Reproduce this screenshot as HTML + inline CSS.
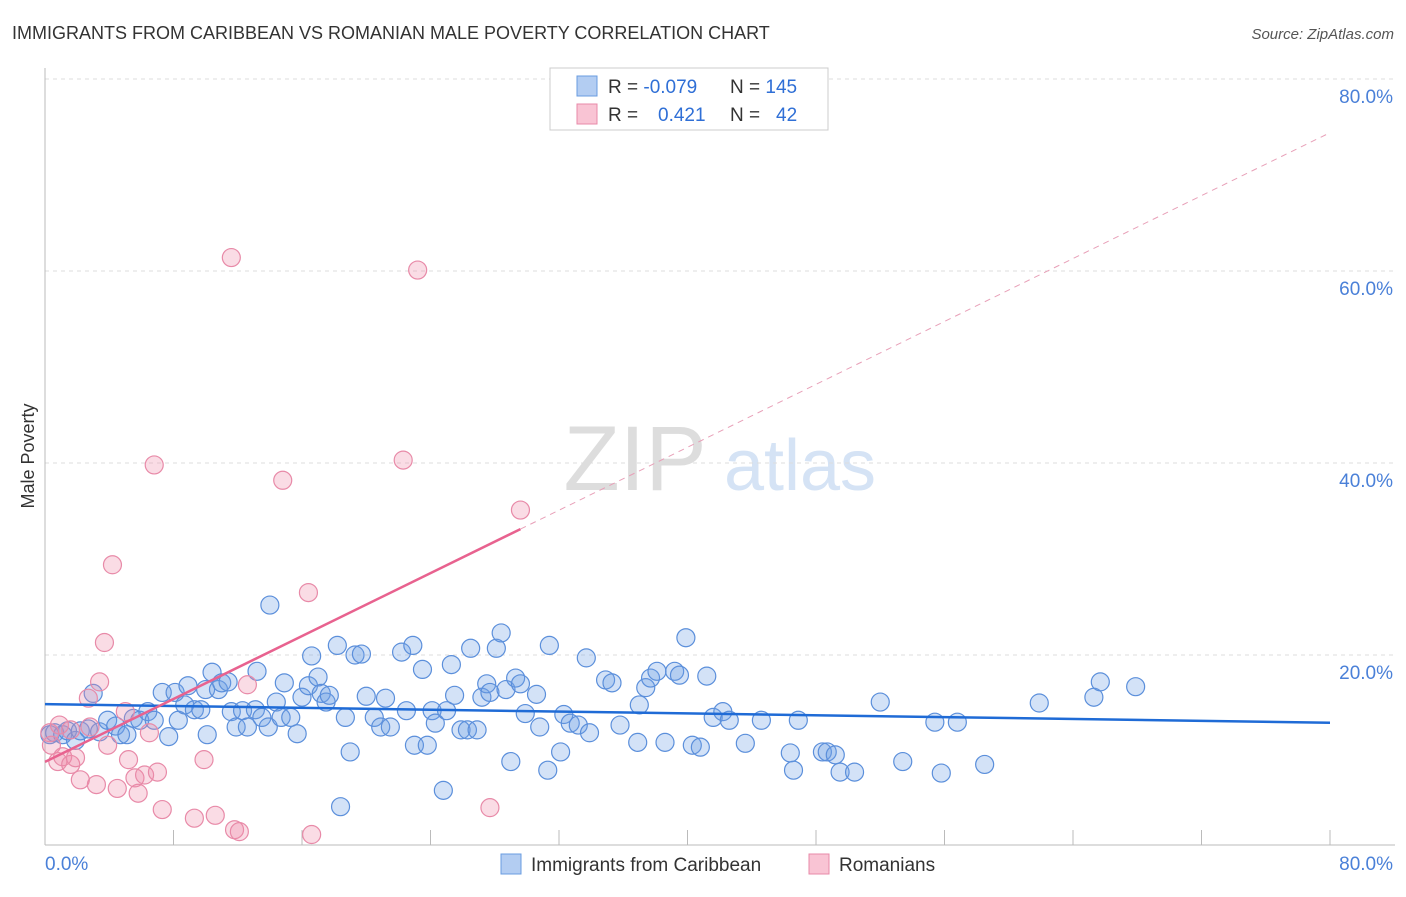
<!DOCTYPE html>
<html><head><meta charset="utf-8"><style>
body{margin:0;background:#fff;font-family:"Liberation Sans",sans-serif;}
svg text{font-family:"Liberation Sans",sans-serif;}
</style></head><body>
<svg id="chart" width="1406" height="892">
<text x="12" y="39" font-size="18" fill="#333">IMMIGRANTS FROM CARIBBEAN VS ROMANIAN MALE POVERTY CORRELATION CHART</text>
<text x="1394" y="39" font-size="15" fill="#555" font-style="italic" text-anchor="end">Source: ZipAtlas.com</text>
<text x="34" y="456" font-size="18" fill="#333" text-anchor="middle" transform="rotate(-90 34 456)">Male Poverty</text>
<g>
<text x="635" y="490" font-size="92" fill="#ddd" font-family="Liberation Serif" text-anchor="middle">ZIP</text>
<text x="800" y="490" font-size="72" fill="#d5e3f5" text-anchor="middle">atlas</text>
</g>
<g id="grid"></g>
<g id="axes"></g>
<g id="blue"></g>
<g id="pink"></g>
<g id="trends"></g>
<g>
<rect x="550" y="68" width="278" height="62" fill="#fff" stroke="#ccc"/>
<rect x="577" y="76" width="20" height="20" fill="#b3cdf2" stroke="#6a9ce0"/>
<rect x="577" y="104" width="20" height="20" fill="#f9c4d4" stroke="#e88aa8"/>
<text x="608" y="93" font-size="19" fill="#333">R = <tspan fill="#2f6fd6">-0.079</tspan><tspan x="730">N = </tspan><tspan fill="#2f6fd6">145</tspan></text>
<text x="608" y="121" font-size="19" fill="#333">R = <tspan x="658" fill="#2f6fd6">0.421</tspan><tspan x="730">N = </tspan><tspan x="776" fill="#2f6fd6">42</tspan></text>
</g>
<g>
<rect x="501" y="854" width="20" height="20" fill="#b3cdf2" stroke="#6a9ce0"/>
<text x="531" y="871" font-size="19" fill="#333">Immigrants from Caribbean</text>
<rect x="809" y="854" width="20" height="20" fill="#f9c4d4" stroke="#e88aa8"/>
<text x="839" y="871" font-size="19" fill="#333">Romanians</text>
</g>
</svg>
<script>
const yTicks=[20,40,60,80];
const yTickLabels=["20.0%","40.0%","60.0%","80.0%"];
const xTicks=[0,8,16,24,32,40,48,56,64,72,80];
const blueX=[0.3,0.6,1.1,1.4,1.9,2.2,2.7,3.0,3.4,3.9,4.4,4.7,5.1,5.5,5.9,6.4,6.8,7.3,7.7,8.1,8.3,8.7,8.9,9.3,9.7,10.0,10.1,10.4,10.8,11.0,11.4,11.6,11.9,12.3,12.6,13.1,13.2,13.5,13.9,14.0,14.4,14.7,14.9,15.3,15.7,16.0,16.4,16.6,17.0,17.2,17.5,17.7,18.2,18.4,18.7,19.0,19.3,19.7,20.0,20.5,20.9,21.2,21.5,22.2,22.5,22.9,23.0,23.5,23.8,24.1,24.3,24.8,25.0,25.3,25.5,25.9,26.3,26.5,26.9,27.2,27.5,27.7,28.1,28.4,28.7,29.0,29.3,29.6,29.9,30.6,30.8,31.3,31.4,32.1,32.3,32.7,33.2,33.7,33.9,34.9,35.3,35.8,36.9,37.0,37.4,37.7,38.1,38.6,39.2,39.5,39.9,40.3,40.8,41.2,41.6,42.2,42.6,43.6,44.6,46.4,46.6,46.9,48.4,48.7,49.2,49.5,50.4,52.0,53.4,55.4,55.8,56.8,58.5,61.9,65.3,65.7,67.9];
const blueY=[11.7,11.9,11.7,12.1,11.1,12.1,12.3,16.0,12.0,13.2,12.6,11.7,11.7,13.4,13.2,14.1,13.2,16.1,11.5,16.1,13.2,14.8,16.8,14.3,14.3,16.4,11.7,18.2,16.4,17.1,17.2,14.1,12.5,14.2,12.5,14.3,18.3,13.5,12.5,25.2,15.1,13.5,17.1,13.5,11.8,15.6,16.8,19.9,17.7,16.0,15.1,15.8,21.0,4.2,13.5,9.9,20.0,20.1,15.7,13.5,12.5,15.5,12.5,20.3,14.2,21.0,10.6,18.5,10.6,14.2,12.9,5.9,14.2,19.0,15.8,12.2,12.2,20.7,12.2,15.6,17.0,16.1,20.7,22.3,16.4,8.9,17.6,17.0,13.9,15.9,12.5,8.0,21.0,9.9,13.8,12.9,12.7,19.7,11.9,17.4,17.1,12.7,10.9,14.8,16.6,17.6,18.3,10.9,18.3,17.9,21.8,10.6,10.4,17.8,13.5,14.1,13.2,10.8,13.2,9.8,8.0,13.2,9.9,9.9,9.6,7.8,7.8,15.1,8.9,13.0,7.7,13.0,8.6,15.0,15.6,17.2,16.7];
const pinkX=[0.3,0.4,0.8,0.9,1.1,1.6,1.6,1.9,2.2,2.7,2.8,3.2,3.4,3.7,3.9,4.2,4.5,5.0,5.2,5.6,5.8,6.2,6.5,6.8,7.0,7.3,9.3,9.9,10.6,11.6,11.8,12.1,12.6,14.8,16.4,16.6,22.3,23.2,27.7,29.6];
const pinkY=[11.9,10.6,8.9,12.7,9.4,8.6,12.2,9.3,7.0,15.5,12.5,6.5,17.2,21.3,10.6,29.4,6.1,14.1,9.1,7.2,5.6,7.5,11.9,39.8,7.8,3.9,3.0,9.1,3.3,61.4,1.8,1.6,16.9,38.2,26.5,1.3,40.3,60.1,4.1,35.1];

const X0=45,X1=1330,Y0=847,PXY=9.6;
const sx=v=>X0+(v/80)*(X1-X0);
const sy=v=>Y0-v*PXY;
const NS="http://www.w3.org/2000/svg";
function mk(tag,attrs,parent){const e=document.createElementNS(NS,tag);for(const k in attrs)e.setAttribute(k,attrs[k]);parent.appendChild(e);return e;}

const grid=document.getElementById('grid');
yTicks.forEach((t,i)=>{
  const l=mk('line',{x1:45,x2:1395,y1:sy(t),y2:sy(t),stroke:'#ddd','stroke-dasharray':'4,4'},grid);
  
  
  const tx=mk('text',{x:1393,y:sy(t)+24,'font-size':19,fill:'#4a80d8','text-anchor':'end'},grid);
  tx.textContent=yTickLabels[i];
  
  
});
const axes=document.getElementById('axes');
mk('line',{x1:45,x2:45,y1:68,y2:845,stroke:'#bbb'},axes);
mk('line',{x1:45,x2:1395,y1:845,y2:845,stroke:'#bbb'},axes);
xTicks.forEach(t=>{
  const l=mk('line',{x1:sx(t),x2:sx(t),y1:830,y2:845,stroke:'#bbb'},axes);
  
  
});
const xl0=mk('text',{x:45,y:870,'font-size':19,fill:'#4a80d8'},axes);xl0.textContent="0.0%";


const xl1=mk('text',{x:1393,y:870,'font-size':19,fill:'#4a80d8','text-anchor':'end'},axes);xl1.textContent="80.0%";



const bg=document.getElementById('blue');
blueX.forEach((x,i)=>{
  const c=mk('circle',{cx:sx(x),cy:sy(blueY[i]),r:9,fill:'rgba(110,160,230,0.3)',stroke:'#5b8fdb','stroke-width':1.2},bg);
  
  
});
const pg=document.getElementById('pink');
pinkX.forEach((x,i)=>{
  const c=mk('circle',{cx:sx(x),cy:sy(pinkY[i]),r:9,fill:'rgba(240,140,170,0.3)',stroke:'#e88aa8','stroke-width':1.2},pg);
  
  
});

function fit(xs,ys){const n=xs.length;let mx=0,my=0;for(let i=0;i<n;i++){mx+=xs[i];my+=ys[i];}mx/=n;my/=n;let a=0,b=0;for(let i=0;i<n;i++){a+=(xs[i]-mx)*(ys[i]-my);b+=(xs[i]-mx)**2;}const s=a/b;return [s,my-s*mx];}
const tg=document.getElementById('trends');
const [bs,bi]=fit(blueX,blueY);
const bl=mk('line',{x1:sx(0),y1:sy(bi),x2:sx(80),y2:sy(bi+bs*80),stroke:'#1f6bd6','stroke-width':2.5},tg);


const [ps,pi]=fit(pinkX,pinkY);
const pmax=Math.max(...pinkX);
const pl=mk('line',{x1:sx(0),y1:sy(pi),x2:sx(pmax),y2:sy(pi+ps*pmax),stroke:'#e8628f','stroke-width':2.5},tg);


const pd=mk('line',{x1:sx(pmax),y1:sy(pi+ps*pmax),x2:sx(80),y2:sy(pi+ps*80),stroke:'#e8a0b8','stroke-width':1,'stroke-dasharray':'6,5'},tg);


</script>
</body></html>
